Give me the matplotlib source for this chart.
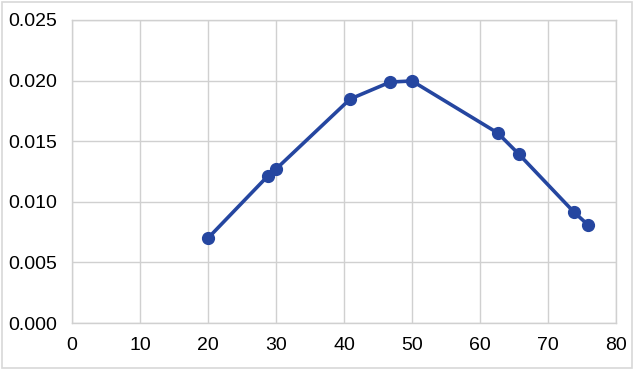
import matplotlib
matplotlib.use("Agg")
import matplotlib.pyplot as plt
from matplotlib.patches import Rectangle

x_vals = [20, 28.8, 30, 40.9, 46.8, 50, 62.6, 65.7, 73.8, 75.9]
y_vals = [0.0070, 0.01213, 0.0127, 0.01848, 0.01988, 0.01997, 0.01568, 0.01394, 0.00916, 0.00809]
x_ticks = [0, 10, 20, 30, 40, 50, 60, 70, 80]
y_ticks = [0.000, 0.005, 0.010, 0.015, 0.020, 0.025]

plt.rcParams['font.family'] = ['Liberation Sans', 'DejaVu Sans']

fig = plt.figure(figsize=(6.4, 3.69), dpi=100)
ax = fig.add_axes([72/640, 1-323/369, (616-72)/640, (323-20)/369])

color = '#2546A0'
ax.plot(x_vals, y_vals, color=color, lw=2.6, marker='o', ms=8.5, zorder=3)

ax.set_xlim(0, 80)
ax.set_ylim(0, 0.025)
ax.set_xticks(x_ticks)
ax.set_yticks(y_ticks)
ax.set_xticklabels([str(t) for t in x_ticks])
ax.set_yticklabels([f"{t:.3f}" for t in y_ticks])
ax.grid(True, color='#D0D0D0', lw=1)
ax.set_axisbelow(True)
for s in ax.spines.values():
    s.set_color('#D0D0D0')
    s.set_linewidth(1)
ax.tick_params(length=0, labelsize=14, colors='black')
ax.tick_params(axis='y', pad=11)
ax.tick_params(axis='x', pad=10)

fig.patches.append(Rectangle((2/640, 1/369), 630/640, 366/369, transform=fig.transFigure,
                             fill=False, edgecolor='#D8D8D8', lw=1.2))

fig.savefig('out.png', dpi=100)
